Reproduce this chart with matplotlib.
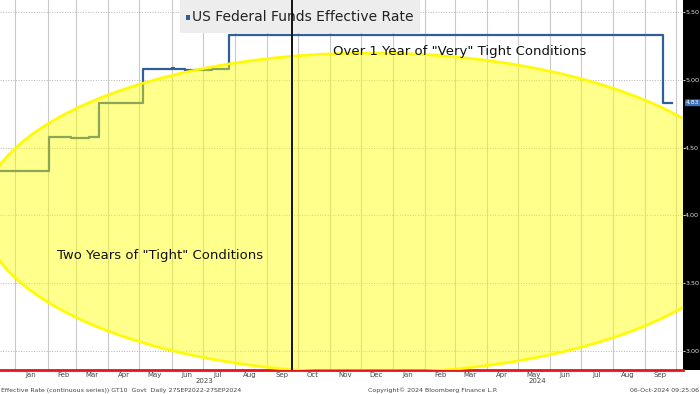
import datetime as dt
import matplotlib
matplotlib.use("Agg")
import matplotlib.pyplot as plt
import matplotlib.dates as mdates
import matplotlib.transforms as mtransforms
from matplotlib.patches import Ellipse, Rectangle

# Effective Fed Funds Rate, step changes (value holds until next date)
rate_dates = ["2022-09-27", "2022-11-03", "2022-12-15", "2023-02-02", "2023-02-24", "2023-03-13",
              "2023-03-23", "2023-05-04", "2023-06-01", "2023-06-03", "2023-06-14", "2023-07-10",
              "2023-07-27", "2024-09-19", "2024-09-27"]
rate_values = [3.08, 3.83, 4.33, 4.58, 4.57, 4.58,
               4.83, 5.08, 5.09, 5.08, 5.07, 5.08,
               5.33, 4.83, 4.83]
last_value = 4.83
split_date = "2023-09-26"
y_ticks = [3.00, 3.50, 4.00, 4.50, 5.00, 5.50]
x_start, x_end = "2022-12-17", "2024-10-08"

blue = "#2f5f98"
W, H = 700, 394
fig = plt.figure(figsize=(W / 100, H / 100), dpi=100)

# black strip behind the right axis labels
fig.add_artist(Rectangle((683 / W, 24 / H), 17 / W, 370 / H, transform=fig.transFigure,
                         facecolor="black", edgecolor="none", zorder=-1))

ax = fig.add_axes([0, 24 / H, 683 / W, 370 / H])

dates = [dt.datetime.strptime(d, "%Y-%m-%d") for d in rate_dates]
ax.step(dates, rate_values, where="post", color=blue, lw=1.6, zorder=2)

x0 = dt.datetime.strptime(x_start, "%Y-%m-%d")
x1 = dt.datetime.strptime(x_end, "%Y-%m-%d")
ax.set_xlim(x0, x1)
ax.set_ylim(2.86, 5.588)

# grid
ax.xaxis.set_major_locator(mdates.MonthLocator(bymonthday=1))
ax.xaxis.set_minor_locator(mdates.MonthLocator(bymonthday=16))
ax.xaxis.set_major_formatter(plt.NullFormatter())
ax.xaxis.set_minor_formatter(mdates.DateFormatter("%b"))
ax.tick_params(axis="x", which="both", length=0, labelsize=5, colors="#444444", pad=1.5)
ax.grid(axis="x", which="major", color="#c9c9c9", lw=0.8)
ax.set_yticks(y_ticks)
ax.yaxis.set_major_formatter(plt.FormatStrFormatter("%.2f"))
ax.grid(axis="y", color="#b5b5b5", lw=0.7, ls=":")
ax.yaxis.tick_right()
ax.tick_params(axis="y", length=1.2, width=0.6, colors="white", labelcolor="#e0e0e0", labelsize=4.6, pad=0.3)

for s in ["top", "left", "right"]:
    ax.spines[s].set_visible(False)
ax.spines["bottom"].set_color("#e8141b")
ax.spines["bottom"].set_linewidth(2)

# yellow ellipse
ax.add_patch(Ellipse((370 / 683, (370 - 213) / 370), 776 / 683, 320 / 370, transform=ax.transAxes,
                     facecolor=(1, 1, 0, 0.45), edgecolor=(1, 0.98, 0, 0.95), lw=2, zorder=3))

# split line
ax.axvline(dt.datetime.strptime(split_date, "%Y-%m-%d"), color="#111111", lw=1.4, zorder=5)

# legend box
ax.add_patch(Rectangle((180 / 683, 1 - 33 / 370), 240 / 683, 33 / 370, transform=ax.transAxes,
                       facecolor="#ededed", edgecolor="none", zorder=4))
ax.add_patch(Rectangle((186 / 683, 1 - 20 / 370), 4 / 683, 5 / 370, transform=ax.transAxes,
                       facecolor=blue, edgecolor="none", zorder=4.5))
ax.text(192 / 683, 1 - 17 / 370, "US Federal Funds Effective Rate", transform=ax.transAxes,
        fontsize=10, va="center", ha="left", color="#222222", zorder=4.5)

# annotations
ax.text(333 / 683, 1 - 52 / 370, 'Over 1 Year of "Very" Tight Conditions', transform=ax.transAxes,
        fontsize=9.5, va="center", ha="left", color="#111111", zorder=6)
ax.text(57 / 683, 1 - 256 / 370, 'Two Years of "Tight" Conditions', transform=ax.transAxes,
        fontsize=9.5, va="center", ha="left", color="#111111", zorder=6)

# last value tag
trans = mtransforms.blended_transform_factory(ax.transAxes, ax.transData)
ax.text(1.0 + 3 / 683, last_value, f"{last_value:.2f}", transform=trans, fontsize=4.4,
        color="white", va="center", ha="left", zorder=7, clip_on=False,
        bbox=dict(boxstyle="round,pad=0.15", facecolor="#3f72b3", edgecolor="none"))

# year labels centred on visible part of each year
ytrans = mtransforms.blended_transform_factory(ax.transData, ax.transAxes)
for yr in [2023, 2024]:
    a = max(x0, dt.datetime(yr, 1, 1))
    b = min(x1, dt.datetime(yr + 1, 1, 1))
    mid = a + (b - a) / 2
    ax.text(mid, -0.021, str(yr), transform=ytrans, fontsize=5, color="#444444", ha="center", va="top")

# footer
fig.text(0.002, 1 / H, "Effective Rate (continuous series)) GT10  Govt  Daily 27SEP2022-27SEP2024",
         fontsize=4.5, color="#444444", ha="left", va="bottom")
fig.text(368 / W, 1 / H, "Copyright\u00a9 2024 Bloomberg Finance L.P.", fontsize=4.5, color="#444444",
         ha="left", va="bottom")
fig.text(0.998, 1 / H, "06-Oct-2024 09:25:06", fontsize=4.5, color="#444444", ha="right", va="bottom")

fig.savefig("out.png", dpi=100)
